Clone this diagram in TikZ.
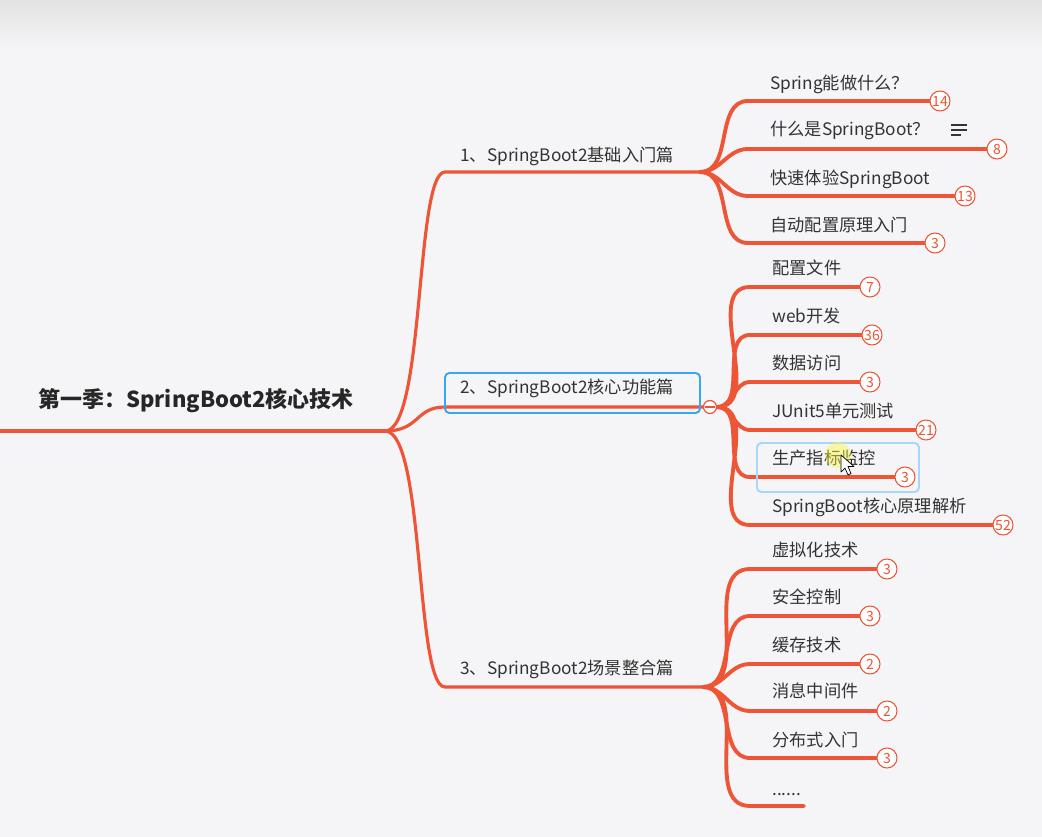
\documentclass[tikz,border=0pt]{standalone}
\usepackage{fontspec}
\setmainfont{Noto Sans CJK SC}
\usetikzlibrary{positioning, backgrounds, calc}
\definecolor{mapred}{HTML}{EE5536}
\definecolor{mapblue}{HTML}{3AA6EE}
\definecolor{maplight}{HTML}{A8D6F7}
\definecolor{maptext}{HTML}{333333}
\definecolor{mapbg}{HTML}{F5F5F7}
\tikzset{
  trunk/.style={draw=mapred, line width=1.8pt, line cap=round},
  twig/.style={draw=mapred, line width=2.2pt, line cap=round},
  title/.style={inner sep=0pt, text=black!85, font=\fontsize{12.5}{14}\selectfont\bfseries},
  topic/.style={anchor=base west, inner sep=0pt, text=maptext, font=\fontsize{9.8}{12}\selectfont},
  count/.style={circle, draw=mapred, fill=white, line width=0.6pt, text=mapred, inner sep=0pt, minimum size=0.4cm, font=\fontsize{8}{9}\selectfont},
  fold/.style={circle, draw=mapred, fill=white, line width=0.7pt, inner sep=0pt, minimum size=0.26cm,
    path picture={\draw[mapred, line width=0.7pt] ([xshift=-2.6pt]path picture bounding box.center) -- ([xshift=2.6pt]path picture bounding box.center);}},
  focus/.style={draw=mapblue, line width=1.1pt, rounded corners=2.5pt}
}
\begin{document}
\begin{tikzpicture}[x=0.02cm, y=-0.02cm]
\useasboundingbox (0,0) rectangle (1042,837);

\node[title] (root) at (196,401) {第一季：SpringBoot2核心技术};
\coordinate (start) at (0,431);
\coordinate (rj) at (385,431);

\node[topic] (b1) at (460,162) {1、SpringBoot2基础入门篇};
\node[topic] (b2) at (460,394) {2、SpringBoot2核心功能篇};
\node[topic] (b3) at (460,675) {3、SpringBoot2场景整合篇};
\coordinate (j1) at (700,172);
\node[fold] (j2) at (710,407) {};
\coordinate (j3) at (703,687);

\node[topic] (t11) at (770,90) {Spring能做什么？};
\node[topic] (t12) at (770,136) {什么是SpringBoot？};
\node[topic] (t13) at (770,185) {快速体验SpringBoot};
\node[topic] (t14) at (770,232) {自动配置原理入门};
\node[count] (n11) at (940,101) {14};
\node[count] (n12) at (997,149) {8};
\node[count] (n13) at (965,196) {13};
\node[count] (n14) at (935,243) {3};

\node[topic] (t21) at (772,275) {配置文件};
\node[topic] (t22) at (772,323) {web开发};
\node[topic] (t23) at (772,370) {数据访问};
\node[topic] (t24) at (772,418) {JUnit5单元测试};
\node[topic] (t25) at (772,465) {生产指标监控};
\node[topic] (t26) at (772,513) {SpringBoot核心原理解析};
\node[count] (n21) at (870,287) {7};
\node[count] (n22) at (872,335) {36};
\node[count] (n23) at (870,382) {3};
\node[count] (n24) at (926,430) {21};
\node[count] (n25) at (905,477) {3};
\node[count] (n26) at (1003,525) {52};

\node[topic] (t31) at (772,557) {虚拟化技术};
\node[topic] (t32) at (772,604) {安全控制};
\node[topic] (t33) at (772,652) {缓存技术};
\node[topic] (t34) at (772,698) {消息中间件};
\node[topic] (t35) at (772,746) {分布式入门};
\node[topic] (t36) at (772,796) {......};
\node[count] (n31) at (887,569) {3};
\node[count] (n32) at (870,616) {3};
\node[count] (n33) at (870,664) {2};
\node[count] (n34) at (887,711) {2};
\node[count] (n35) at (887,758) {3};
\coordinate (e36) at (804,806);

\begin{scope}[on background layer]
  \fill[mapbg] (0,0) rectangle (1042,837);
  \shade[top color=black!11, bottom color=mapbg] (0,0) rectangle (1042,48);
  \draw[trunk] (start) -- (rj);
  \draw[trunk] (rj) .. controls +(40,0) and +(-30,0) .. ($(b1.west |- j1)+(-15,0)$) -- (j1);
  \draw[trunk] (rj) .. controls +(35,0) and +(-30,0) .. ($(b2.west |- j2)+(-15,0)$) -- (j2);
  \draw[trunk] (rj) .. controls +(40,0) and +(-30,0) .. ($(b3.west |- j3)+(-15,0)$) -- (j3);
  \draw[twig] (j1) to[out=0, in=180] ($(t11.west |- n11)+(-22,0)$) -- (n11);
  \draw[twig] (j1) to[out=0, in=180] ($(t12.west |- n12)+(-22,0)$) -- (n12);
  \draw[twig] (j1) to[out=0, in=180] ($(t13.west |- n13)+(-22,0)$) -- (n13);
  \draw[twig] (j1) to[out=0, in=180] ($(t14.west |- n14)+(-22,0)$) -- (n14);
  \draw[twig] (j2) to[out=0, in=180] ($(t21.west |- n21)+(-22,0)$) -- (n21);
  \draw[twig] (j2) to[out=0, in=180] ($(t22.west |- n22)+(-22,0)$) -- (n22);
  \draw[twig] (j2) to[out=0, in=180] ($(t23.west |- n23)+(-22,0)$) -- (n23);
  \draw[twig] (j2) to[out=0, in=180] ($(t24.west |- n24)+(-22,0)$) -- (n24);
  \draw[twig] (j2) to[out=0, in=180] ($(t25.west |- n25)+(-22,0)$) -- (n25);
  \draw[twig] (j2) to[out=0, in=180] ($(t26.west |- n26)+(-22,0)$) -- (n26);
  \draw[twig] (j3) to[out=0, in=180] ($(t31.west |- n31)+(-22,0)$) -- (n31);
  \draw[twig] (j3) to[out=0, in=180] ($(t32.west |- n32)+(-22,0)$) -- (n32);
  \draw[twig] (j3) to[out=0, in=180] ($(t33.west |- n33)+(-22,0)$) -- (n33);
  \draw[twig] (j3) to[out=0, in=180] ($(t34.west |- n34)+(-22,0)$) -- (n34);
  \draw[twig] (j3) to[out=0, in=180] ($(t35.west |- n35)+(-22,0)$) -- (n35);
  \draw[twig] (j3) to[out=0, in=180] ($(t36.west |- e36)+(-22,0)$) -- (e36);
\end{scope}

\draw[focus] (445,373) rectangle (700,413);
\draw[focus, draw=maplight] (757,443) rectangle (919,492);
\draw[maptext, line width=0.6pt] (951,125) -- (967,125) (951,130) -- (967,130) (951,135) -- (961,135);
\fill[yellow!75, opacity=0.45] (838,455) circle (13);
\draw[fill=white, line width=0.4pt, line join=round] (841,455) -- ++(0,17) -- ++(4,-4) -- ++(3,7) -- ++(3,-1.5) -- ++(-3,-7) -- ++(6,0) -- cycle;
\end{tikzpicture}
\end{document}
